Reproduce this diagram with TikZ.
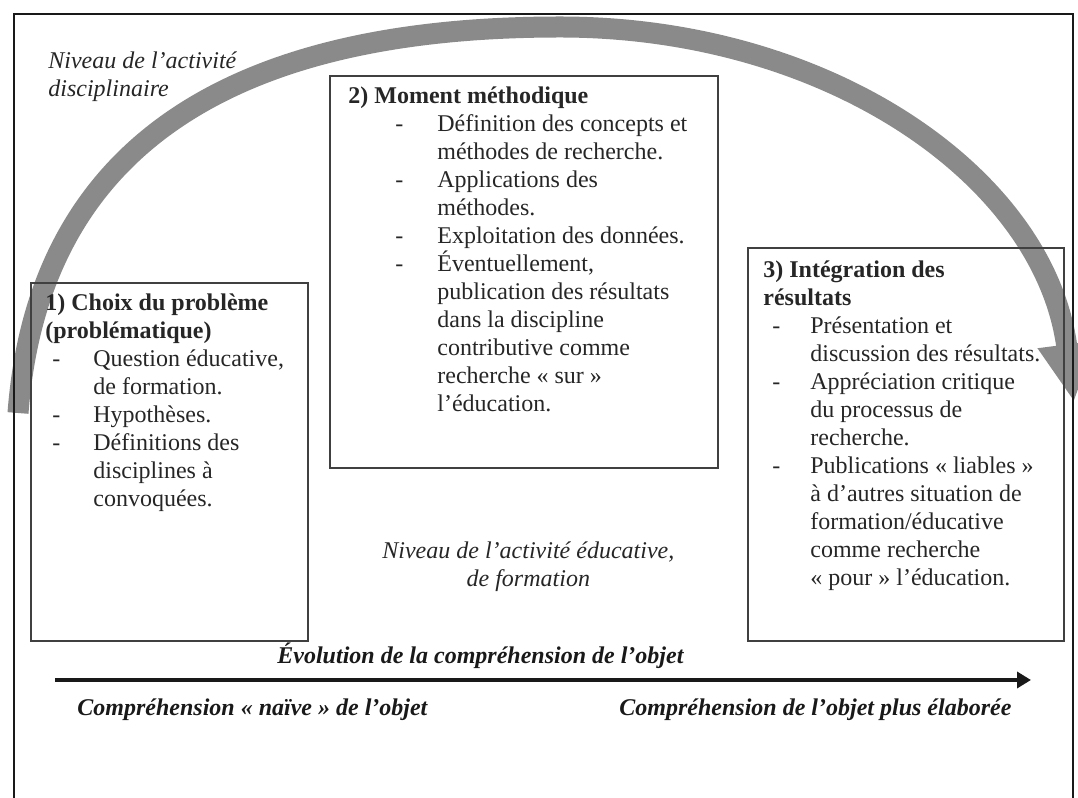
\documentclass[tikz,border=0pt]{standalone}
\usepackage{fontspec}
\setmainfont{Liberation Serif}
\usetikzlibrary{arrows.meta}

\newlength\dashind
\newlength\txtind
\newcommand{\tir}{\makebox[\txtind][l]{\hspace*{\dashind}-}}
\newcommand{\suite}{\hspace*{\txtind}}
\newcommand{\haut}{\rule{0pt}{11pt}}

\tikzset{
  cadre/.style={line width=1.3pt, black!90},
  bande/.style={draw=black!46, line width=10.5pt, -{Triangle[length=29pt,width=27pt]}},
  boite/.style={draw=black!75, line width=0.9pt, anchor=north west, inner sep=0pt},
  texte/.style={inner sep=0pt, anchor=north west, yshift=11pt, align=left, text=black!85,
    font=\fontsize{12}{14}\selectfont},
  ital/.style={texte, font=\fontsize{12}{14}\selectfont\itshape},
  grasit/.style={texte, text=black!90, font=\fontsize{12}{14}\selectfont\bfseries\itshape},
  liste/.style 2 args={texte, font={\fontsize{12}{14}\selectfont\setlength{\dashind}{#1}\setlength{\txtind}{#2}}},
  fleche/.style={line width=2pt, black!90, -{Triangle[length=7pt,width=8pt]}}
}

\begin{document}
\begin{tikzpicture}[x=0.5pt, y=0.5pt]
  \useasboundingbox (0,0) rectangle (1078,798);
  \clip (0,0) rectangle (1078,798);
  % grande fleche grise
  \draw[bande] (18,385) .. controls (42,700) and (305,771) .. (560,771)
    .. controls (830,771) and (1045,620) .. (1074,396);
  % cadre
  \draw[cadre] (14,0) -- (14,784) -- (1073,784) -- (1073,0);
  % boites
  \node[boite, minimum width=138.5pt, minimum height=179pt] (b1) at (30,516) {};
  \node[boite, minimum width=194pt, minimum height=196pt] (b2) at (329,723) {};
  \node[boite, minimum width=158pt, minimum height=196.5pt] (b3) at (747,551) {};
  % textes des boites
  \node[liste={3.5pt}{24pt}] (t1) at (45,488) {\haut\textbf{1) Choix du problème}\\
    \textbf{(problématique)}\\
    \tir Question éducative,\\
    \suite de formation.\\
    \tir Hypothèses.\\
    \tir Définitions des\\
    \suite disciplines à\\
    \suite convoquées.};
  \node[liste={23.5pt}{44.5pt}] (t2) at (348,695) {\haut\textbf{2) Moment méthodique}\\
    \tir Définition des concepts et\\
    \suite méthodes de recherche.\\
    \tir Applications des\\
    \suite méthodes.\\
    \tir Exploitation des données.\\
    \tir Éventuellement,\\
    \suite publication des résultats\\
    \suite dans la discipline\\
    \suite contributive comme\\
    \suite recherche « sur »\\
    \suite l’éducation.};
  \node[liste={4.5pt}{23.5pt}] (t3) at (763,521) {\haut\textbf{3) Intégration des}\\
    \textbf{résultats}\\
    \tir Présentation et\\
    \suite discussion des résultats.\\
    \tir Appréciation critique\\
    \suite du processus de\\
    \suite recherche.\\
    \tir Publications « liables »\\
    \suite à d’autres situation de\\
    \suite formation/éducative\\
    \suite comme recherche\\
    \suite « pour » l’éducation.};
  % niveaux
  \node[ital] (disc) at (48,730) {\haut Niveau de l’activité\\disciplinaire};
  \node[ital, align=center] (edu) at (382,240) {\haut Niveau de l’activité éducative,\\de formation};
  % evolution
  \node[grasit] (evol) at (277,135) {\haut Évolution de la compréhension de l’objet};
  \coordinate (evoA) at (55,118);
  \coordinate (evoB) at (1031,118);
  \draw[fleche] (evoA) -- (evoB);
  \node[grasit] (naive) at (77,83) {\haut Compréhension « naïve » de l’objet};
  \node[grasit] (elab) at (619,83) {\haut Compréhension de l’objet plus élaborée};
\end{tikzpicture}
\end{document}
